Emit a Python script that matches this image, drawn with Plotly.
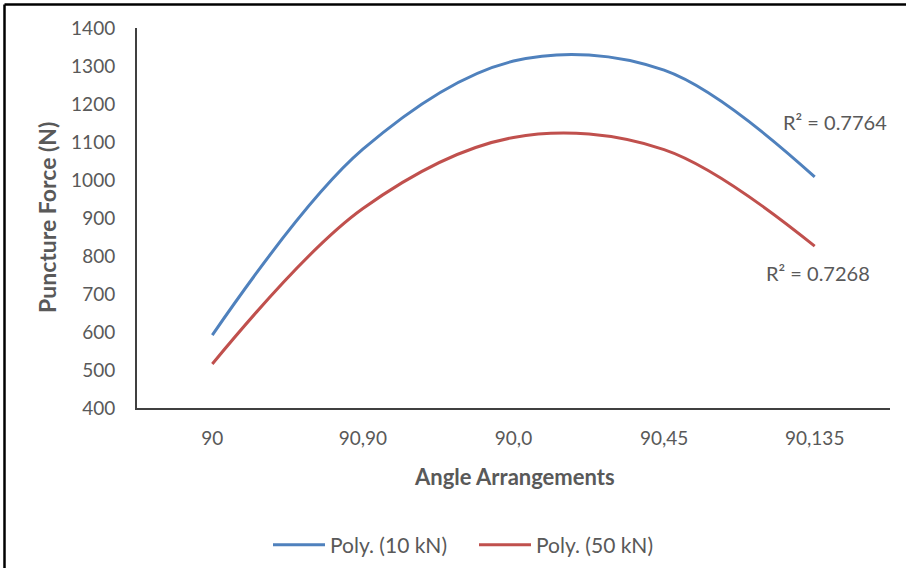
import plotly.graph_objects as go

categories = ["90", "90,90", "90,0", "90,45", "90,135"]
force_10kN = [592, 1081, 1313, 1289, 1008]
force_50kN = [516, 925, 1112, 1080, 826]
series_names = ["Poly. (10 kN)", "Poly. (50 kN)"]
r2_labels = ["R² = 0.7764", "R² = 0.7268"]
y_ticks = list(range(400, 1401, 100))

FONT = "Lato"
GRAY = "#595959"

fig = go.Figure()
fig.add_trace(go.Scatter(x=categories, y=force_10kN, mode="lines", name=series_names[0],
                         line=dict(color="#4F81BD", width=3, shape="spline"), hoverinfo="skip"))
fig.add_trace(go.Scatter(x=categories, y=force_50kN, mode="lines", name=series_names[1],
                         line=dict(color="#C0504D", width=3, shape="spline"), hoverinfo="skip"))

W, H = 906, 568
L, R, T, B = 137, 16, 28, 160
pw, ph = W - L - R, H - T - B

def px(x):
    return (x - L) / pw

def py(y):
    return (H - B - y) / ph

def note(text, x, y, size, angle=0):
    return dict(text=text, x=px(x), y=py(y), xref="paper", yref="paper",
                xanchor="center", yanchor="middle", showarrow=False, textangle=angle,
                font=dict(family=FONT, size=size, color=GRAY))

fig.update_layout(
    width=W, height=H,
    margin=dict(l=L, r=R, t=T, b=B, autoexpand=False),
    paper_bgcolor="white", plot_bgcolor="white",
    font=dict(family=FONT, size=19, color=GRAY),
    showlegend=True,
    legend=dict(orientation="h", x=px(268), xanchor="left", y=py(545), yanchor="middle",
                font=dict(family=FONT, size=21, color=GRAY), itemwidth=52,
                entrywidth=139, entrywidthmode="pixels",
                bgcolor="rgba(0,0,0,0)"),
    xaxis=dict(type="category", range=[-0.5, 4.5], showgrid=False, zeroline=False,
               showline=True, linecolor="#404040", linewidth=2, ticks="",
               ticklabelstandoff=12, tickfont=dict(family=FONT, size=19, color=GRAY)),
    yaxis=dict(range=[400, 1400], tickvals=y_ticks, showgrid=False, zeroline=False,
               showline=True, linecolor="#404040", linewidth=2, ticks="",
               ticklabelstandoff=16, tickfont=dict(family=FONT, size=19, color=GRAY)),
    annotations=[
        note("<b>Puncture Force (N)</b>", 47, 218, 23, -90),
        note("<b>Angle Arrangements</b>", 514, 476, 22),
        note(r2_labels[0], 835, 122, 20),
        note(r2_labels[1], 818, 273, 20),
    ],
    shapes=[
        dict(type="line", xref="paper", yref="paper", x0=px(4.5), x1=px(906), y0=py(4.5), y1=py(4.5),
             line=dict(color="black", width=2.5)),
        dict(type="line", xref="paper", yref="paper", x0=px(4.5), x1=px(4.5), y0=py(4.5), y1=py(568),
             line=dict(color="black", width=2.5)),
    ],
)

fig.write_html("out.html", config={"displayModeBar": False},
               post_script="document.body.style.margin='0';")
